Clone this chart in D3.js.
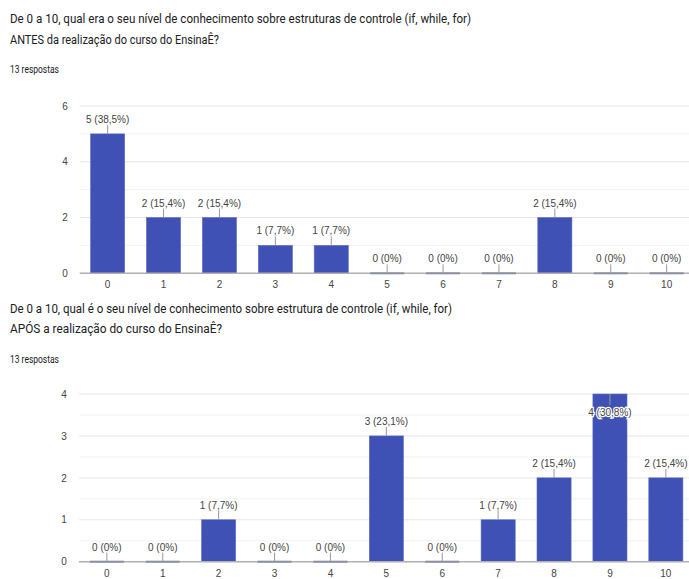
<!DOCTYPE html>
<html>
<head>
<meta charset="utf-8">
<script src="https://cdn.jsdelivr.net/npm/d3@7"></script>
<style>
  body { margin: 0; background: #fff; }
  svg { display: block; }
  .title { font-family: Roboto, "Noto Sans", sans-serif; font-size: 13.5px; fill: #202124; }
  .count { font-family: Roboto, "Noto Sans", sans-serif; font-size: 10px; fill: #202124; }
  .tick text, .annot { font-family: "Liberation Sans", Arial, sans-serif; font-size: 10px; fill: #444; }
</style>
</head>
<body>
<div id="chart"></div>
<script>
var categories = ["0", "1", "2", "3", "4", "5", "6", "7", "8", "9", "10"];
var antesValues = [5, 2, 2, 1, 1, 0, 0, 0, 2, 0, 0];
var aposValues = [0, 0, 1, 0, 0, 3, 0, 1, 2, 4, 2];
var totalRespostas = 13;
var antesTicks = [0, 2, 4, 6];
var aposTicks = [0, 1, 2, 3, 4];
var antesTitle = ["De 0 a 10, qual era o seu nível de conhecimento sobre estruturas de controle (if, while, for)",
                  "ANTES da realização do curso do EnsinaÊ?"];
var aposTitle = ["De 0 a 10, qual é o seu nível de conhecimento sobre estrutura de controle (if, while, for)",
                 "APÓS a realização do curso do EnsinaÊ?"];

var width = 689, height = 579;
var barColor = "#3f51b5";

var svg = d3.select("#chart").append("svg")
    .attr("width", width)
    .attr("height", height);

function pctLabel(v) {
    if (v === 0) return "0 (0%)";
    return v + " (" + d3.format(".1f")(v / totalRespostas * 100).replace(".", ",") + "%)";
}

function drawTitle(lines, y0, lens) {
    svg.append("text").attr("class", "title")
        .attr("x", 10).attr("y", y0)
        .attr("textLength", lens[0]).attr("lengthAdjust", "spacingAndGlyphs")
        .text(lines[0]);
    svg.append("text").attr("class", "title")
        .attr("x", 10).attr("y", y0 + 20.5)
        .attr("textLength", lens[1]).attr("lengthAdjust", "spacingAndGlyphs")
        .text(lines[1]);
    svg.append("text").attr("class", "count")
        .attr("x", 10).attr("y", y0 + 50)
        .attr("textLength", 49).attr("lengthAdjust", "spacingAndGlyphs")
        .text(totalRespostas + " respostas");
}

function drawChart(values, ticks, yMax, gridStep, left, top, bottom) {
    var x = d3.scaleBand()
        .domain(categories)
        .range([left, left + 11 * 55.9])
        .paddingInner(0.39)
        .paddingOuter(0.195);

    var y = d3.scaleLinear()
        .domain([0, yMax])
        .range([bottom, top]);

    var g = svg.append("g");

    // gridlines
    g.selectAll("line.grid")
        .data(d3.range(gridStep, yMax + 0.001, gridStep))
        .enter().append("line")
        .attr("class", "grid")
        .attr("x1", left).attr("x2", width)
        .attr("y1", d => y(d)).attr("y2", d => y(d))
        .attr("stroke", d => ticks.indexOf(d) >= 0 ? "#e8e8e8" : "#f2f2f2")
        .attr("stroke-width", 1);

    // y axis labels
    var yAxis = d3.axisLeft(y).tickValues(ticks).tickFormat(d3.format("d")).tickSize(0).tickPadding(12);
    g.append("g")
        .attr("transform", `translate(${left},0)`)
        .call(yAxis)
        .call(a => a.select(".domain").remove());

    // bars
    g.selectAll("rect.bar")
        .data(values)
        .enter().append("rect")
        .attr("class", "bar")
        .attr("x", (d, i) => x(categories[i]))
        .attr("y", d => y(d))
        .attr("width", x.bandwidth())
        .attr("height", d => y(0) - y(d))
        .attr("fill", barColor)
        .attr("stroke", "#5c6bc0")
        .attr("stroke-width", 0.6);

    // baseline
    g.append("line")
        .attr("x1", left).attr("x2", width)
        .attr("y1", y(0)).attr("y2", y(0))
        .attr("stroke", "#b0b0b0").attr("stroke-width", 1.5);

    // zero bars marker
    g.selectAll("rect.zero")
        .data(values.map((v, i) => ({v: v, k: categories[i]})).filter(d => d.v === 0))
        .enter().append("rect")
        .attr("class", "zero")
        .attr("x", d => x(d.k))
        .attr("y", y(0) - 1)
        .attr("width", x.bandwidth())
        .attr("height", 2)
        .attr("fill", "#8c8fa3");

    // annotations
    values.forEach(function (v, i) {
        var cx = x(categories[i]) + x.bandwidth() / 2;
        var inside = v === yMax;
        var y1 = y(v), y2, ty;
        if (inside) {
            y2 = y1 + 11;
            ty = y1 + 22;
        } else {
            y2 = y1 - 9;
            ty = y1 - 11;
        }
        g.append("line")
            .attr("x1", cx).attr("x2", cx)
            .attr("y1", y1).attr("y2", y2)
            .attr("stroke", "#999").attr("stroke-width", 1);
        var t = g.append("text").attr("class", "annot")
            .attr("x", cx).attr("y", ty)
            .attr("text-anchor", "middle")
            .text(pctLabel(v));
        if (inside) {
            t.attr("stroke", "#fff").attr("stroke-width", 2.5)
                .attr("paint-order", "stroke");
        }
    });

    // x axis labels
    var xAxis = d3.axisBottom(x).tickSize(0).tickPadding(8);
    g.append("g")
        .attr("transform", `translate(0,${bottom})`)
        .call(xAxis)
        .call(a => a.select(".domain").remove());
}

drawTitle(antesTitle, 23, [461, 209]);
drawChart(antesValues, antesTicks, 6, 1, 79.7, 106, 273.3);

drawTitle(aposTitle, 312.7, [442, 212]);
drawChart(aposValues, aposTicks, 4, 0.5, 78.9, 394, 561.7);
</script>
</body>
</html>
